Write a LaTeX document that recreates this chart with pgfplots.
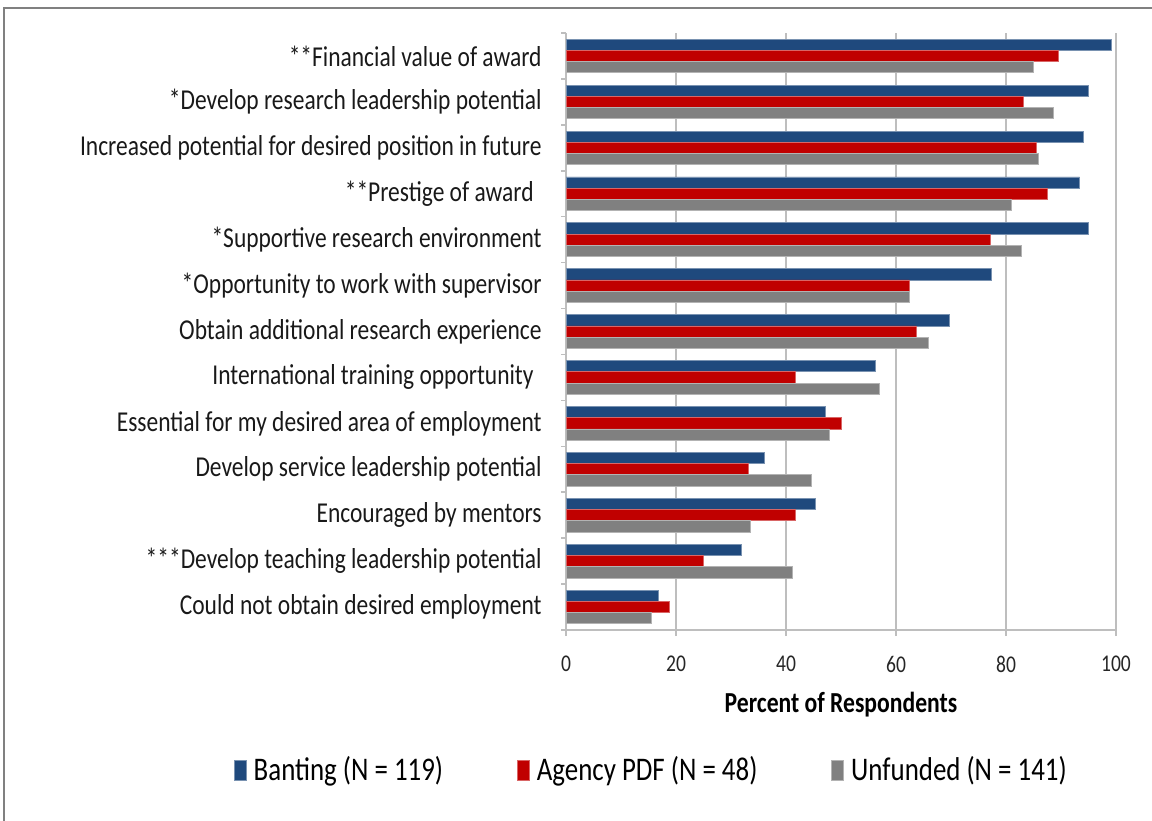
\documentclass[border=0pt]{standalone}
\usepackage{fontspec}
\setmainfont[FakeStretch=0.815]{Carlito}
\usepackage{pgfplots}
\pgfplotsset{compat=1.18}
\definecolor{banting}{RGB}{31,73,125}
\definecolor{agency}{RGB}{192,0,0}
\definecolor{unfunded}{RGB}{128,128,128}
\definecolor{gridc}{RGB}{190,190,190}
\begin{document}
\begin{tikzpicture}[x=1pt,y=1pt]
\useasboundingbox (0,0) rectangle (576,410);
\draw[unfunded, line width=1pt] (2,-5) -- (2,406) -- (590,406);
\begin{axis}[
  at={(283pt,95pt)}, anchor=south west,
  scale only axis, width=275pt, height=298.5pt,
  xmin=0, xmax=100, ymin=-0.5, ymax=12.5,
  xtick={0,20,...,100},
  ytick={0,...,12},
  yticklabels={
    Could not obtain desired employment,
    ***Develop teaching leadership potential,
    Encouraged by mentors,
    Develop service leadership potential,
    Essential for my desired area of employment,
    International training opportunity\hspace*{4pt},
    Obtain additional research experience,
    *Opportunity to work with supervisor,
    *Supportive research environment,
    **Prestige of award\hspace*{4pt},
    Increased potential for desired position in future,
    *Develop research leadership potential,
    **Financial value of award},
  minor ytick={-0.5,0.5,...,12.5},
  axis x line*=bottom, axis y line*=left,
  axis line style={gridc, line width=0.8pt},
  tick align=outside,
  major tick length=3pt, minor tick length=2.5pt,
  tick style={gridc, line width=0.8pt},
  major y tick style={draw=none},
  xmajorgrids, major x grid style={gridc, line width=0.8pt},
  /pgf/number format/assume math mode=true,
  xticklabel style={font=\fontsize{12}{13}\selectfont, text=black!85, yshift=-6.5pt},
  yticklabel style={font=\fontsize{14.4}{15}\selectfont, text=black!90, inner sep=0pt, xshift=-9pt},
  xlabel={\textbf{Percent of Respondents}},
  xlabel style={font=\fontsize{14.5}{16}\selectfont, at={(axis description cs:0.5,-0.1245)}, anchor=center},
  legend columns=3,
  legend style={draw=none, fill=none, at={(axis description cs:0.157,-0.2345)}, anchor=center,
    font=\fontsize{16.5}{18}\selectfont, /tikz/every even column/.append style={column sep=35pt}},
  legend image code/.code={\fill[#1] (0pt,-5pt) rectangle (6pt,5pt); \path (7.5pt,0pt);},
]
\addplot[xbar, bar width=5.6pt, bar shift=5.6pt, fill=banting, draw=banting!60!white, line width=0.4pt]
 coordinates {(99.2,12) (94.9,11) (94.1,10) (93.4,9) (94.9,8) (77.3,7) (69.7,6) (56.3,5) (47.1,4) (36.0,3) (45.3,2) (31.9,1) (16.8,0)};
\addplot[xbar, bar width=5.6pt, bar shift=0pt, fill=agency, draw=agency!60!white, line width=0.4pt]
 coordinates {(89.6,12) (83.2,11) (85.5,10) (87.5,9) (77.1,8) (62.4,7) (63.7,6) (41.7,5) (50.0,4) (33.2,3) (41.7,2) (24.9,1) (18.8,0)};
\addplot[xbar, bar width=5.6pt, bar shift=-5.6pt, fill=unfunded, draw=unfunded!60!white, line width=0.4pt]
 coordinates {(85.0,12) (88.7,11) (85.8,10) (80.9,9) (82.8,8) (62.4,7) (65.9,6) (57.0,5) (47.8,4) (44.6,3) (33.5,2) (41.1,1) (15.6,0)};
\legend{Banting (N = 119), Agency PDF (N = 48), Unfunded (N = 141)}
\end{axis}
\end{tikzpicture}
\end{document}
